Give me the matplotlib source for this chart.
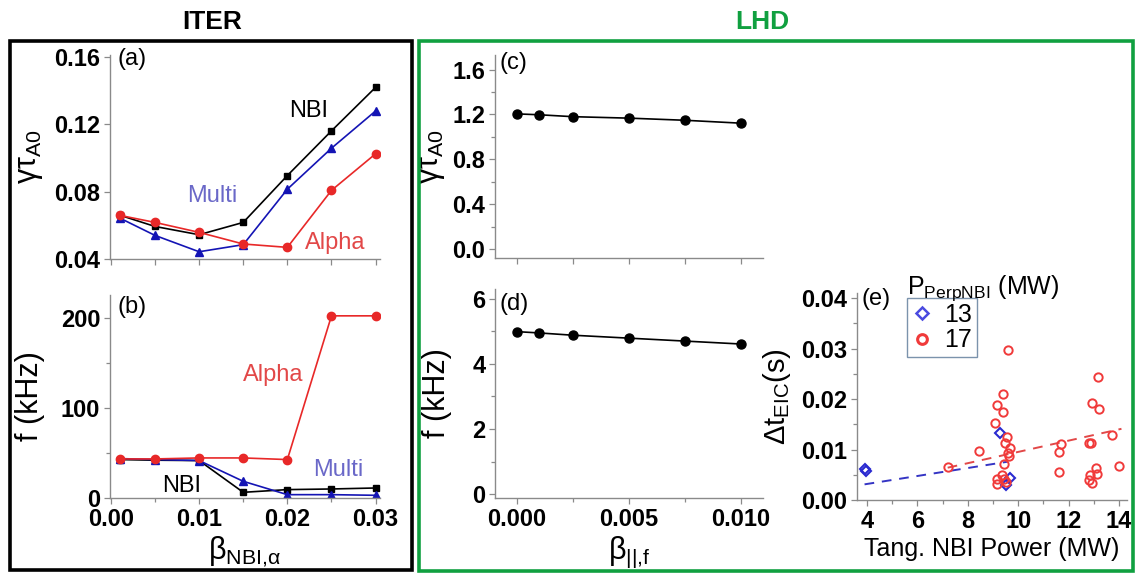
import matplotlib
matplotlib.use('Agg')
import matplotlib.pyplot as plt
from matplotlib.lines import Line2D
from matplotlib.patches import Rectangle
from matplotlib.ticker import MultipleLocator

plt.rcParams['font.family'] = ['Liberation Sans', 'DejaVu Sans']

# ITER scan over fast-ion beta
beta_iter = [0.001, 0.005, 0.010, 0.015, 0.020, 0.025, 0.030]
gamma_nbi = [0.0660, 0.0593, 0.0544, 0.0617, 0.0895, 0.1160, 0.1418]
gamma_multi = [0.0643, 0.0540, 0.0443, 0.0485, 0.0814, 0.1057, 0.1278]
gamma_alpha = [0.0659, 0.0617, 0.0558, 0.0489, 0.0469, 0.0807, 0.1024]
freq_nbi = [42.6, 41.9, 41.5, 6.3, 9.3, 10.0, 11.1]
freq_multi = [43.7, 42.6, 41.5, 18.5, 3.7, 3.7, 3.0]
freq_alpha = [43.3, 43.3, 44.4, 44.4, 42.6, 201.9, 201.9]

# LHD scan over parallel beta
beta_lhd = [0.0, 0.001, 0.0025, 0.005, 0.0075, 0.010]
gamma_lhd = [1.205, 1.197, 1.180, 1.167, 1.148, 1.122]
freq_lhd = [4.99, 4.95, 4.88, 4.79, 4.70, 4.61]

# EIC duration vs tangential NBI power
p13_x = [3.92, 3.95, 9.26, 9.67, 9.52]
p13_y = [0.0061, 0.0058, 0.0132, 0.0043, 0.0030]
p17_x = [7.22, 8.43, 9.07, 9.14, 9.40, 9.41, 9.59, 9.56, 9.48, 9.67, 9.59,
         9.63, 9.45, 9.14, 9.17, 9.36, 9.43, 9.50, 11.61, 11.61, 11.71, 12.80,
         12.90, 12.94, 13.16, 13.20, 13.71, 14.02, 13.07, 13.11, 12.87, 12.83,
         12.94]
p17_y = [0.0065, 0.0098, 0.0152, 0.0188, 0.0209, 0.0175, 0.0297, 0.0124,
         0.0112, 0.0103, 0.0093, 0.0087, 0.0071, 0.0042, 0.0031, 0.0050,
         0.0042, 0.0036, 0.0055, 0.0096, 0.0111, 0.0113, 0.0113, 0.0192,
         0.0244, 0.0181, 0.0129, 0.0068, 0.0063, 0.0052, 0.0050, 0.0040,
         0.0034]
fit13_x = [3.9, 9.6]
fit13_y = [0.0031, 0.0076]
fit17_x = [7.2, 14.1]
fit17_y = [0.0064, 0.0141]

BLACK = '#000000'
BLUE = '#1414b4'
RED = '#e82828'
TXT_BLUE = '#6a68c8'
TXT_RED = '#e24848'
GREEN = '#10a040'
SPINE = '#8a8a8a'

W, H = 1135, 574
fig = plt.figure(figsize=(W / 100, H / 100), dpi=100)


def box(left, right, top, bottom):
    # pixel box -> figure fraction
    return [left / W, 1 - bottom / H, (right - left) / W, (bottom - top) / H]


def style(ax):
    for s in ['top', 'right']:
        ax.spines[s].set_visible(False)
    for s in ['left', 'bottom']:
        ax.spines[s].set_color(SPINE)
        ax.spines[s].set_linewidth(1.0)
    ax.tick_params(which='both', direction='out', color=SPINE, width=0.9,
                   labelsize=17, pad=3)
    ax.tick_params(which='major', length=4)
    ax.tick_params(which='minor', length=3)
    for lab in ax.get_xticklabels() + ax.get_yticklabels():
        lab.set_fontweight('bold')


ax_a = fig.add_axes(box(110, 380, 55, 259))
ax_b = fig.add_axes(box(110, 380, 295, 498))
ax_c = fig.add_axes(box(495, 763, 55, 258))
ax_d = fig.add_axes(box(495, 763, 289, 498))
ax_e = fig.add_axes(box(857, 1127, 293, 500))

# (a) growth rate, ITER
ax_a.plot(beta_iter, gamma_nbi, '-s', color=BLACK, ms=5, lw=1.2)
ax_a.plot(beta_iter, gamma_multi, '-^', color=BLUE, ms=6, lw=1.2)
ax_a.plot(beta_iter, gamma_alpha, '-o', color=RED, ms=6, lw=1.2)
ax_a.set_xlim(-0.0001, 0.0305)
ax_a.set_ylim(0.04, 0.161)
ax_a.set_yticks([0.04, 0.08, 0.12, 0.16])
ax_a.set_yticklabels(['0.04', '0.08', '0.12', '0.16'])
ax_a.xaxis.set_major_locator(MultipleLocator(0.005))
ax_a.set_xticklabels([])
ax_a.set_ylabel(r'γτ$_\mathregular{A0}$', fontsize=22)
ax_a.yaxis.set_label_coords(-0.24, 0.5)
ax_a.text(0.027, 0.98, '(a)', transform=ax_a.transAxes, fontsize=17,
          va='center', ha='left')
ax_a.text(0.0224, 0.128, 'NBI', fontsize=17, color=BLACK, ha='center', va='center')
ax_a.text(0.01145, 0.0775, 'Multi', fontsize=17, color=TXT_BLUE, ha='center', va='center')
ax_a.text(0.0254, 0.0495, 'Alpha', fontsize=17, color=TXT_RED, ha='center', va='center')
style(ax_a)

# (b) frequency, ITER
ax_b.plot(beta_iter, freq_nbi, '-s', color=BLACK, ms=5, lw=1.2)
ax_b.plot(beta_iter, freq_multi, '-^', color=BLUE, ms=6, lw=1.2)
ax_b.plot(beta_iter, freq_alpha, '-o', color=RED, ms=6, lw=1.2)
ax_b.set_xlim(-0.0001, 0.0305)
ax_b.set_ylim(0, 225)
ax_b.set_yticks([0, 100, 200])
ax_b.set_yticklabels(['0', '100', '200'])
ax_b.yaxis.set_minor_locator(MultipleLocator(50))
ax_b.set_xticks([0.0, 0.01, 0.02, 0.03])
ax_b.set_xticklabels(['0.00', '0.01', '0.02', '0.03'])
ax_b.xaxis.set_minor_locator(MultipleLocator(0.005))
ax_b.set_ylabel('f (kHz)', fontsize=22)
ax_b.yaxis.set_label_coords(-0.24, 0.5)
ax_b.set_xlabel(r'β$_\mathregular{NBI{,}α}$', fontsize=22, labelpad=3)
ax_b.text(0.027, 0.94, '(b)', transform=ax_b.transAxes, fontsize=17,
          va='center', ha='left')
ax_b.text(0.0184, 136, 'Alpha', fontsize=17, color=TXT_RED, ha='center', va='center')
ax_b.text(0.0258, 31, 'Multi', fontsize=17, color=TXT_BLUE, ha='center', va='center')
ax_b.text(0.0080, 13, 'NBI', fontsize=17, color=BLACK, ha='center', va='center')
style(ax_b)

# (c) growth rate, LHD
ax_c.plot(beta_lhd, gamma_lhd, '-o', color=BLACK, ms=6.5, lw=1.2)
ax_c.set_xlim(-0.00098, 0.01098)
ax_c.set_ylim(-0.08, 1.73)
ax_c.set_yticks([0.0, 0.4, 0.8, 1.2, 1.6])
ax_c.set_yticklabels(['0.0', '0.4', '0.8', '1.2', '1.6'])
ax_c.yaxis.set_minor_locator(MultipleLocator(0.2))
ax_c.xaxis.set_major_locator(MultipleLocator(0.0025))
ax_c.set_xticklabels([])
ax_c.set_ylabel(r'γτ$_\mathregular{A0}$', fontsize=22)
ax_c.yaxis.set_label_coords(-0.18, 0.5)
ax_c.text(0.015, 0.96, '(c)', transform=ax_c.transAxes, fontsize=17,
          va='center', ha='left')
style(ax_c)

# (d) frequency, LHD
ax_d.plot(beta_lhd, freq_lhd, '-o', color=BLACK, ms=6.5, lw=1.2)
ax_d.set_xlim(-0.00098, 0.01098)
ax_d.set_ylim(-0.12, 6.3)
ax_d.set_yticks([0, 2, 4, 6])
ax_d.set_yticklabels(['0', '2', '4', '6'])
ax_d.yaxis.set_minor_locator(MultipleLocator(1))
ax_d.set_xticks([0.0, 0.005, 0.010])
ax_d.set_xticklabels(['0.000', '0.005', '0.010'])
ax_d.xaxis.set_minor_locator(MultipleLocator(0.0025))
ax_d.set_ylabel('f (kHz)', fontsize=22)
ax_d.yaxis.set_label_coords(-0.16, 0.5)
ax_d.set_xlabel(r'β$_\mathregular{||{,}f}$', fontsize=22, labelpad=3)
ax_d.text(0.015, 0.93, '(d)', transform=ax_d.transAxes, fontsize=17,
          va='center', ha='left')
style(ax_d)

# (e) EIC duration vs tangential NBI power
ax_e.plot(fit13_x, fit13_y, '--', color='#3434c4', lw=1.4, dashes=(5, 4))
ax_e.plot(fit17_x, fit17_y, '--', color=TXT_RED, lw=1.4, dashes=(5, 4))
ax_e.plot(p13_x, p13_y, 'D', mfc='none', mec='#2a2ad0', mew=1.5, ms=5.5, ls='none')
ax_e.plot(p17_x, p17_y, 'o', mfc='none', mec='#f03a3a', mew=1.4, ms=6, ls='none')
ax_e.set_xlim(3.6, 14.32)
ax_e.set_ylim(0, 0.041)
ax_e.set_xticks([4, 6, 8, 10, 12, 14])
ax_e.set_xticklabels(['4', '6', '8', '10', '12', '14'])
ax_e.xaxis.set_minor_locator(MultipleLocator(1))
ax_e.set_yticks([0.0, 0.01, 0.02, 0.03, 0.04])
ax_e.set_yticklabels(['0.00', '0.01', '0.02', '0.03', '0.04'])
ax_e.yaxis.set_minor_locator(MultipleLocator(0.005))
ax_e.set_ylabel(r'Δt$_\mathregular{EIC}$(s)', fontsize=21)
ax_e.yaxis.set_label_coords(-0.237, 0.5)
ax_e.set_xlabel('Tang. NBI Power (MW)', fontsize=18, labelpad=3)
ax_e.text(0.015, 0.97, '(e)', transform=ax_e.transAxes, fontsize=17,
          va='center', ha='left')
style(ax_e)

handles = [
    Line2D([], [], marker='D', mfc='none', mec='#4a4ae0', mew=1.8, ms=6, ls='none'),
    Line2D([], [], marker='o', mfc='none', mec='#f03a3a', mew=2.2, ms=7, ls='none'),
]
leg = ax_e.legend(handles, ['13', '17'], loc='upper left',
                  bbox_to_anchor=(907 / W, 1 - 298 / H),
                  bbox_transform=fig.transFigure, borderaxespad=0,
                  fontsize=18, frameon=True, fancybox=False,
                  handlelength=0.8, handletextpad=0.5, labelspacing=0.05,
                  borderpad=0.2)
leg.get_frame().set_edgecolor('#5a7898')
leg.get_frame().set_linewidth(1.0)
fig.text(907 / W, 1 - 288 / H, r'P$_\mathregular{PerpNBI}$ (MW)', fontsize=18,
         ha='left', va='center')

# group frames and headers
fig.add_artist(Rectangle((10 / W, 4 / H), 402 / W, 529 / H, transform=fig.transFigure,
                         fill=False, edgecolor=BLACK, lw=2.6))
fig.add_artist(Rectangle((419 / W, 3 / H), 714 / W, 530 / H, transform=fig.transFigure,
                         fill=False, edgecolor=GREEN, lw=2.6))
fig.text(212 / W, 1 - 22 / H, 'ITER', fontsize=19, fontweight='bold',
         ha='center', va='center', color=BLACK)
fig.text(762 / W, 1 - 22 / H, 'LHD', fontsize=19, fontweight='bold',
         ha='center', va='center', color=GREEN)

fig.savefig('out.png', dpi=100)
